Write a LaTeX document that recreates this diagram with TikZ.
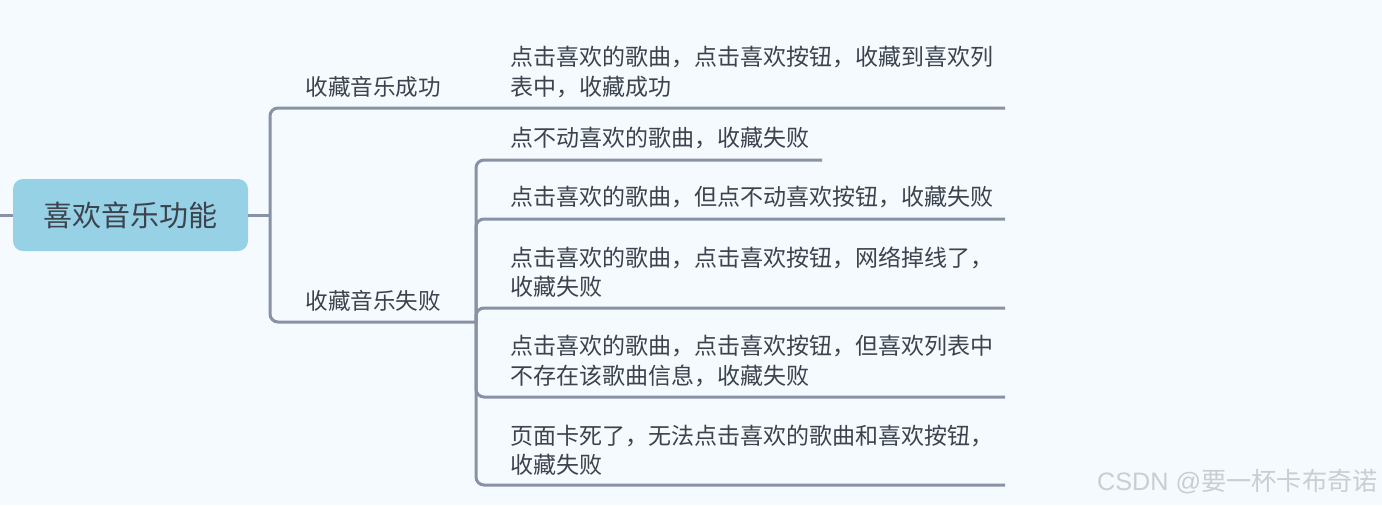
\documentclass[tikz,border=0pt]{standalone}
\usepackage{fontspec}
\setmainfont{Noto Sans CJK SC}
\newfontfamily\marksans{Liberation Sans}
\definecolor{bgpale}{HTML}{F5FAFE}
\definecolor{rootfill}{HTML}{96D1E6}
\definecolor{linkgray}{HTML}{8892A4}
\definecolor{textgray}{HTML}{3C434D}
\definecolor{markgray}{HTML}{C9CED4}
\tikzset{
  link/.style={draw=linkgray, line width=1.5pt, rounded corners=4pt},
  rootbox/.style={rectangle, rounded corners=5pt, fill=rootfill, minimum width=117.5pt,
    minimum height=36pt, text=textgray, font=\fontsize{14.5pt}{17pt}\selectfont},
  branchtext/.style={anchor=west, inner sep=0pt, text=textgray, font=\fontsize{11.3pt}{14.7pt}\selectfont},
  leaftext/.style={anchor=west, inner sep=0pt, align=left, text=textgray, font=\fontsize{11.5pt}{14.7pt}\selectfont}
}
\begin{document}
\begin{tikzpicture}[x=0.5pt, y=-0.5pt]
    % Background and frame
    \fill[bgpale] (0,0) rectangle (1382,505);
    \useasboundingbox (0,0) rectangle (1382,505);

    % Root
    \node[rootbox] (root) at (130.5,215) {喜欢音乐功能};

    % Branch labels
    \node[branchtext] (win) at (305,87) {收藏音乐成功};
    \node[branchtext] (fail) at (305,301) {收藏音乐失败};

    % Leaf labels
    \node[leaftext] (leafA) at (510,72) {点击喜欢的歌曲，点击喜欢按钮，收藏到喜欢列\\表中，收藏成功};
    \node[leaftext] (leafB) at (510,138) {点不动喜欢的歌曲，收藏失败};
    \node[leaftext] (leafC) at (510,197) {点击喜欢的歌曲，但点不动喜欢按钮，收藏失败};
    \node[leaftext] (leafD) at (510,272) {点击喜欢的歌曲，点击喜欢按钮，网络掉线了，\\收藏失败};
    \node[leaftext] (leafE) at (510,361) {点击喜欢的歌曲，点击喜欢按钮，但喜欢列表中\\不存在该歌曲信息，收藏失败};
    \node[leaftext] (leafF) at (510,450) {页面卡死了，无法点击喜欢的歌曲和喜欢按钮，\\收藏失败};

    % Junctions and line ends
    \coordinate (stub) at (0,215);
    \coordinate (split) at (270,215);
    \coordinate (failsplit) at (476,322);
    \coordinate (endA) at (1005,108);
    \coordinate (endB) at (822,160);
    \coordinate (endC) at (1005,219);
    \coordinate (endD) at (1005,308);
    \coordinate (endE) at (1005,397);
    \coordinate (endF) at (1005,485);

    % Connectors
    \draw[link] (stub) -- (root.west);
    \draw[link] (root.east) -- (split);
    \draw[link] (split) |- (endA);
    \draw[link] (split) |- (failsplit);
    \foreach \e in {endB,endC,endD,endE,endF}
        \draw[link] (failsplit) |- (\e);

    % Watermark
    \node[anchor=east, inner sep=0pt, text=markgray, font=\fontsize{12.6pt}{15pt}\selectfont] (mark) at (1378,482) {{\marksans CSDN @}要一杯卡布奇诺};
\end{tikzpicture}
\end{document}
